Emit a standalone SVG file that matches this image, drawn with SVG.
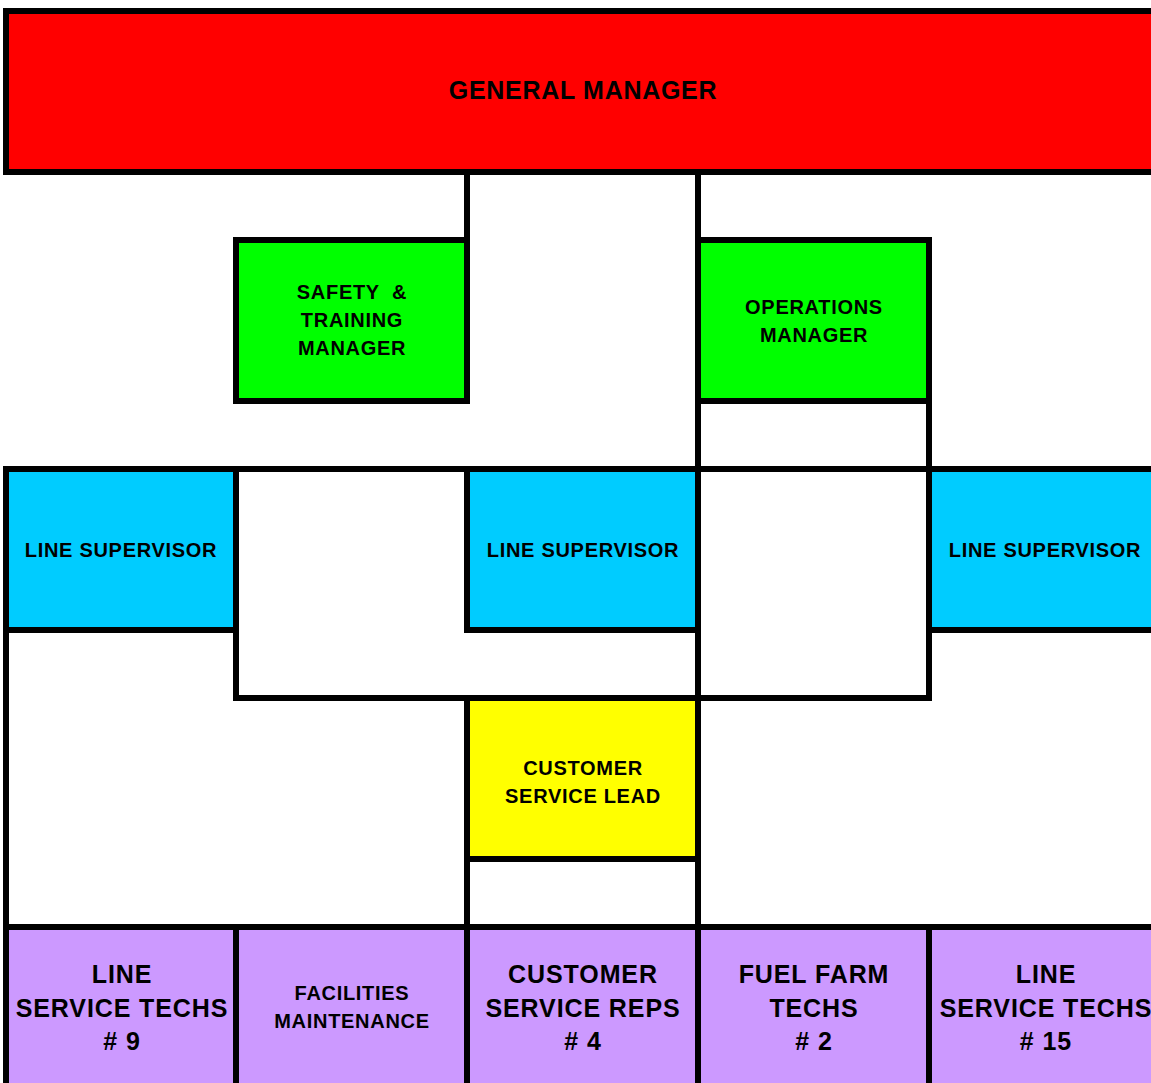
<svg xmlns="http://www.w3.org/2000/svg" width="1151" height="1083" viewBox="0 0 1151 1083">
<style>
.box{stroke:#000;stroke-width:6}
.gm{fill:#FF0000}
.mgr{fill:#00FF00}
.sup{fill:#00CCFF}
.lead{fill:#FFFF00}
.staff{fill:#CC99FF}
text{font-family:"Liberation Sans",Arial,Helvetica,sans-serif;font-weight:bold;fill:#000;text-anchor:middle}
.t20{font-size:20px;letter-spacing:0.7px}
.t25{font-size:25px;letter-spacing:0.9px}
.conn{stroke:#000;stroke-width:6;fill:none;stroke-linecap:square;stroke-linejoin:miter}
</style>
<rect x="0" y="0" width="1151" height="1083" fill="#fff"/>
<g id="connectors" class="conn">
<path d="M467 172V240"/>
<path d="M698 172V240"/>
<path d="M698 401V469"/>
<path d="M929 401V469"/>
<path d="M6 469H1160"/>
<path d="M236 630V698H929V630"/>
<path d="M698 630V698"/>
<path d="M6 630V927"/>
<path d="M467 859V927"/>
<path d="M698 859V927"/>
</g>
<g id="general-manager">
<rect class="box gm" x="6" y="11" width="1154" height="161"/>
<text class="t25" x="583" y="99" style="letter-spacing:0.7px">GENERAL MANAGER</text>
</g>
<g id="safety-training-manager">
<rect class="box mgr" x="236" y="240" width="231" height="161"/>
<text class="t20" x="352" y="299" xml:space="preserve">SAFETY  &amp;</text>
<text class="t20" x="352" y="327">TRAINING</text>
<text class="t20" x="352" y="355">MANAGER</text>
</g>
<g id="operations-manager">
<rect class="box mgr" x="698" y="240" width="231" height="161"/>
<text class="t20" x="814" y="314">OPERATIONS</text>
<text class="t20" x="814" y="342">MANAGER</text>
</g>
<g id="line-supervisor-1">
<rect class="box sup" x="6" y="469" width="230" height="161"/>
<text class="t20" x="121" y="557">LINE SUPERVISOR</text>
</g>
<g id="line-supervisor-2">
<rect class="box sup" x="467" y="469" width="231" height="161"/>
<text class="t20" x="583" y="557">LINE SUPERVISOR</text>
</g>
<g id="line-supervisor-3">
<rect class="box sup" x="929" y="469" width="231" height="161"/>
<text class="t20" x="1045" y="557">LINE SUPERVISOR</text>
</g>
<g id="customer-service-lead">
<rect class="box lead" x="467" y="698" width="231" height="161"/>
<text class="t20" x="583" y="775">CUSTOMER</text>
<text class="t20" x="583" y="803">SERVICE LEAD</text>
</g>
<g id="line-service-techs-9">
<rect class="box staff" x="6" y="927" width="230" height="161"/>
<text class="t25" x="122" y="983">LINE</text>
<text class="t25" x="122" y="1017">SERVICE TECHS</text>
<text class="t25" x="122" y="1050"># 9</text>
</g>
<g id="facilities-maintenance">
<rect class="box staff" x="236" y="927" width="231" height="161"/>
<text class="t20" x="352" y="1000">FACILITIES</text>
<text class="t20" x="352" y="1028">MAINTENANCE</text>
</g>
<g id="customer-service-reps-4">
<rect class="box staff" x="467" y="927" width="231" height="161"/>
<text class="t25" x="583" y="983">CUSTOMER</text>
<text class="t25" x="583" y="1017">SERVICE REPS</text>
<text class="t25" x="583" y="1050"># 4</text>
</g>
<g id="fuel-farm-techs-2">
<rect class="box staff" x="698" y="927" width="231" height="161"/>
<text class="t25" x="814" y="983">FUEL FARM</text>
<text class="t25" x="814" y="1017">TECHS</text>
<text class="t25" x="814" y="1050"># 2</text>
</g>
<g id="line-service-techs-15">
<rect class="box staff" x="929" y="927" width="231" height="161"/>
<text class="t25" x="1046" y="983">LINE</text>
<text class="t25" x="1046" y="1017">SERVICE TECHS</text>
<text class="t25" x="1046" y="1050"># 15</text>
</g>
</svg>
